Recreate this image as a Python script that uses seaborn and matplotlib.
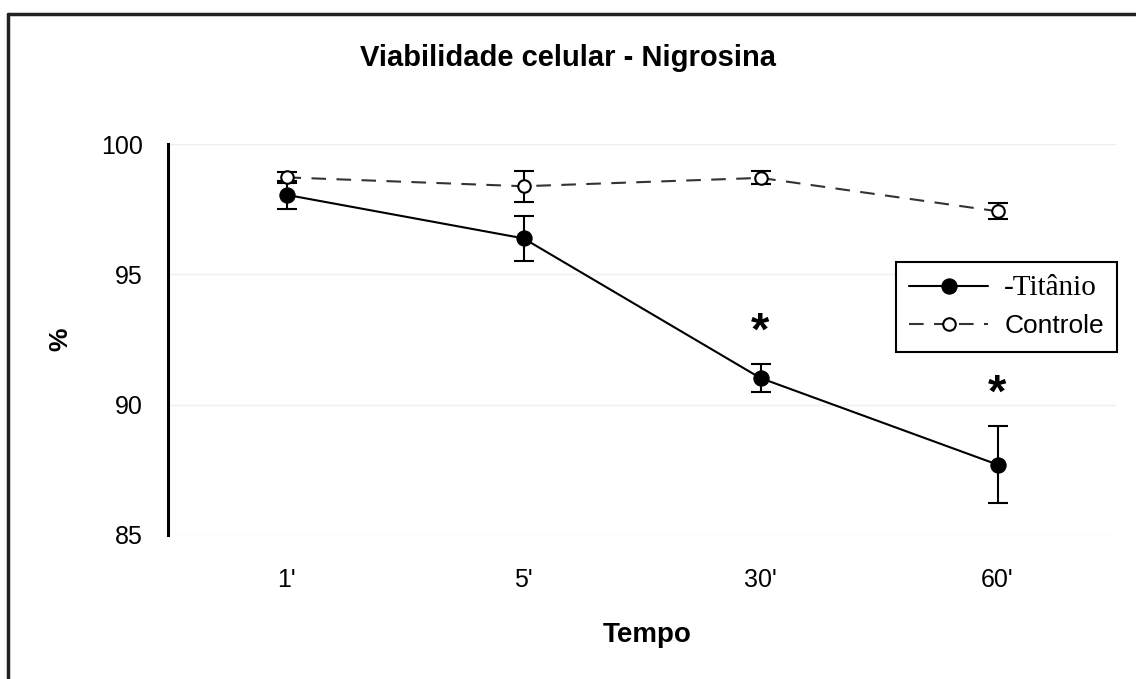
import matplotlib
matplotlib.use('Agg')
import matplotlib.pyplot as plt
from matplotlib.lines import Line2D
import seaborn as sns
import pandas as pd

# Données
tempos = ["1'", "5'", "30'", "60'"]
titanio_media = [98.05, 96.38, 91.02, 87.70]
titanio_erro = [0.55, 0.85, 0.55, 1.48]
controle_media = [98.72, 98.38, 98.70, 97.42]
controle_erro = [0.22, 0.60, 0.25, 0.30]
significativo = [False, False, True, True]

sns.set_style('white')
plt.rcParams['font.family'] = ['Liberation Sans', 'DejaVu Sans']
plt.rcParams['text.color'] = 'black'
plt.rcParams['axes.labelcolor'] = 'black'
plt.rcParams['xtick.color'] = 'black'
plt.rcParams['ytick.color'] = 'black'

df_ti = pd.DataFrame({'tempo': tempos, 'valor': titanio_media})
df_ct = pd.DataFrame({'tempo': tempos, 'valor': controle_media})

fig = plt.figure(figsize=(11.36, 6.79), dpi=100)
ax = fig.add_axes([0.1479, 0.2121, 0.8345, 0.5758])

# Controle (tracejado, marcador aberto)
sns.lineplot(data=df_ct, x='tempo', y='valor', ax=ax, color='#333333', lw=1.5,
             linestyle=(0, (7, 5)), marker='o', markersize=9, markerfacecolor='white',
             markeredgecolor='black', markeredgewidth=1.5, label='Controle', clip_on=False, zorder=3)
ax.errorbar(tempos, controle_media, yerr=controle_erro, fmt='none', ecolor='black',
            elinewidth=1.5, capsize=7, capthick=1.5, zorder=2, clip_on=False)

# Titânio (contínuo, marcador cheio)
sns.lineplot(data=df_ti, x='tempo', y='valor', ax=ax, color='black', lw=1.5,
             marker='o', markersize=11, markerfacecolor='black', markeredgecolor='black',
             label='-Titânio', clip_on=False, zorder=4)
ax.errorbar(tempos, titanio_media, yerr=titanio_erro, fmt='none', ecolor='black',
            elinewidth=1.5, capsize=7, capthick=1.5, zorder=2, clip_on=False)

# Asteriscos de significância
for t, m, e, s in zip(tempos, titanio_media, titanio_erro, significativo):
    if s:
        ax.text(t, m + e + 1.2, '*', ha='center', va='center', fontsize=34,
                fontweight='bold', color='black')

ax.set_xlim(-0.5, 3.5)
ax.set_ylim(85, 100)
ax.set_yticks([85, 90, 95, 100])
ax.yaxis.grid(True, color='#eeeeee', lw=1)
ax.set_axisbelow(True)
for s in ['top', 'right', 'bottom']:
    ax.spines[s].set_visible(False)
ax.spines['left'].set_linewidth(2.2)
ax.spines['left'].set_color('black')
ax.tick_params(axis='y', direction='out', length=8, width=2.2, labelsize=18, pad=10)
ax.tick_params(axis='x', length=0, labelsize=18, pad=24)

ax.set_xlabel('Tempo', fontsize=20, fontweight='bold')
ax.xaxis.set_label_coords(0.505, (535 - 622) / 391)
ax.set_ylabel('%', fontsize=19, fontweight='bold')
ax.yaxis.set_label_coords((72 - 168) / 948, 0.5)
fig.suptitle('Viabilidade celular - Nigrosina', fontsize=21, fontweight='bold', x=0.5, y=0.935)

# Legenda
handles, labels = ax.get_legend_handles_labels()
ordem = [labels.index('-Titânio'), labels.index('Controle')]
leg = ax.legend([handles[i] for i in ordem], [labels[i] for i in ordem],
                loc='upper right', bbox_to_anchor=(1117 / 1136, 1 - 262 / 679),
                bbox_transform=fig.transFigure, borderaxespad=0, fancybox=False,
                edgecolor='black', framealpha=1, fontsize=19, handlelength=3.0,
                handletextpad=0.6, borderpad=0.5, labelspacing=0.5)
leg.get_frame().set_linewidth(1.5)
leg.get_texts()[0].set_family('Liberation Serif')
leg.get_texts()[0].set_fontsize(21)

# Moldura da figura (topo e esquerda)
fig.add_artist(Line2D([8 / 1136, 1], [1 - 14 / 679, 1 - 14 / 679], color='#222222', lw=2.5))
fig.add_artist(Line2D([8 / 1136, 8 / 1136], [0, 1 - 14 / 679], color='#222222', lw=2.5))

fig.savefig('out.png', dpi=100)
